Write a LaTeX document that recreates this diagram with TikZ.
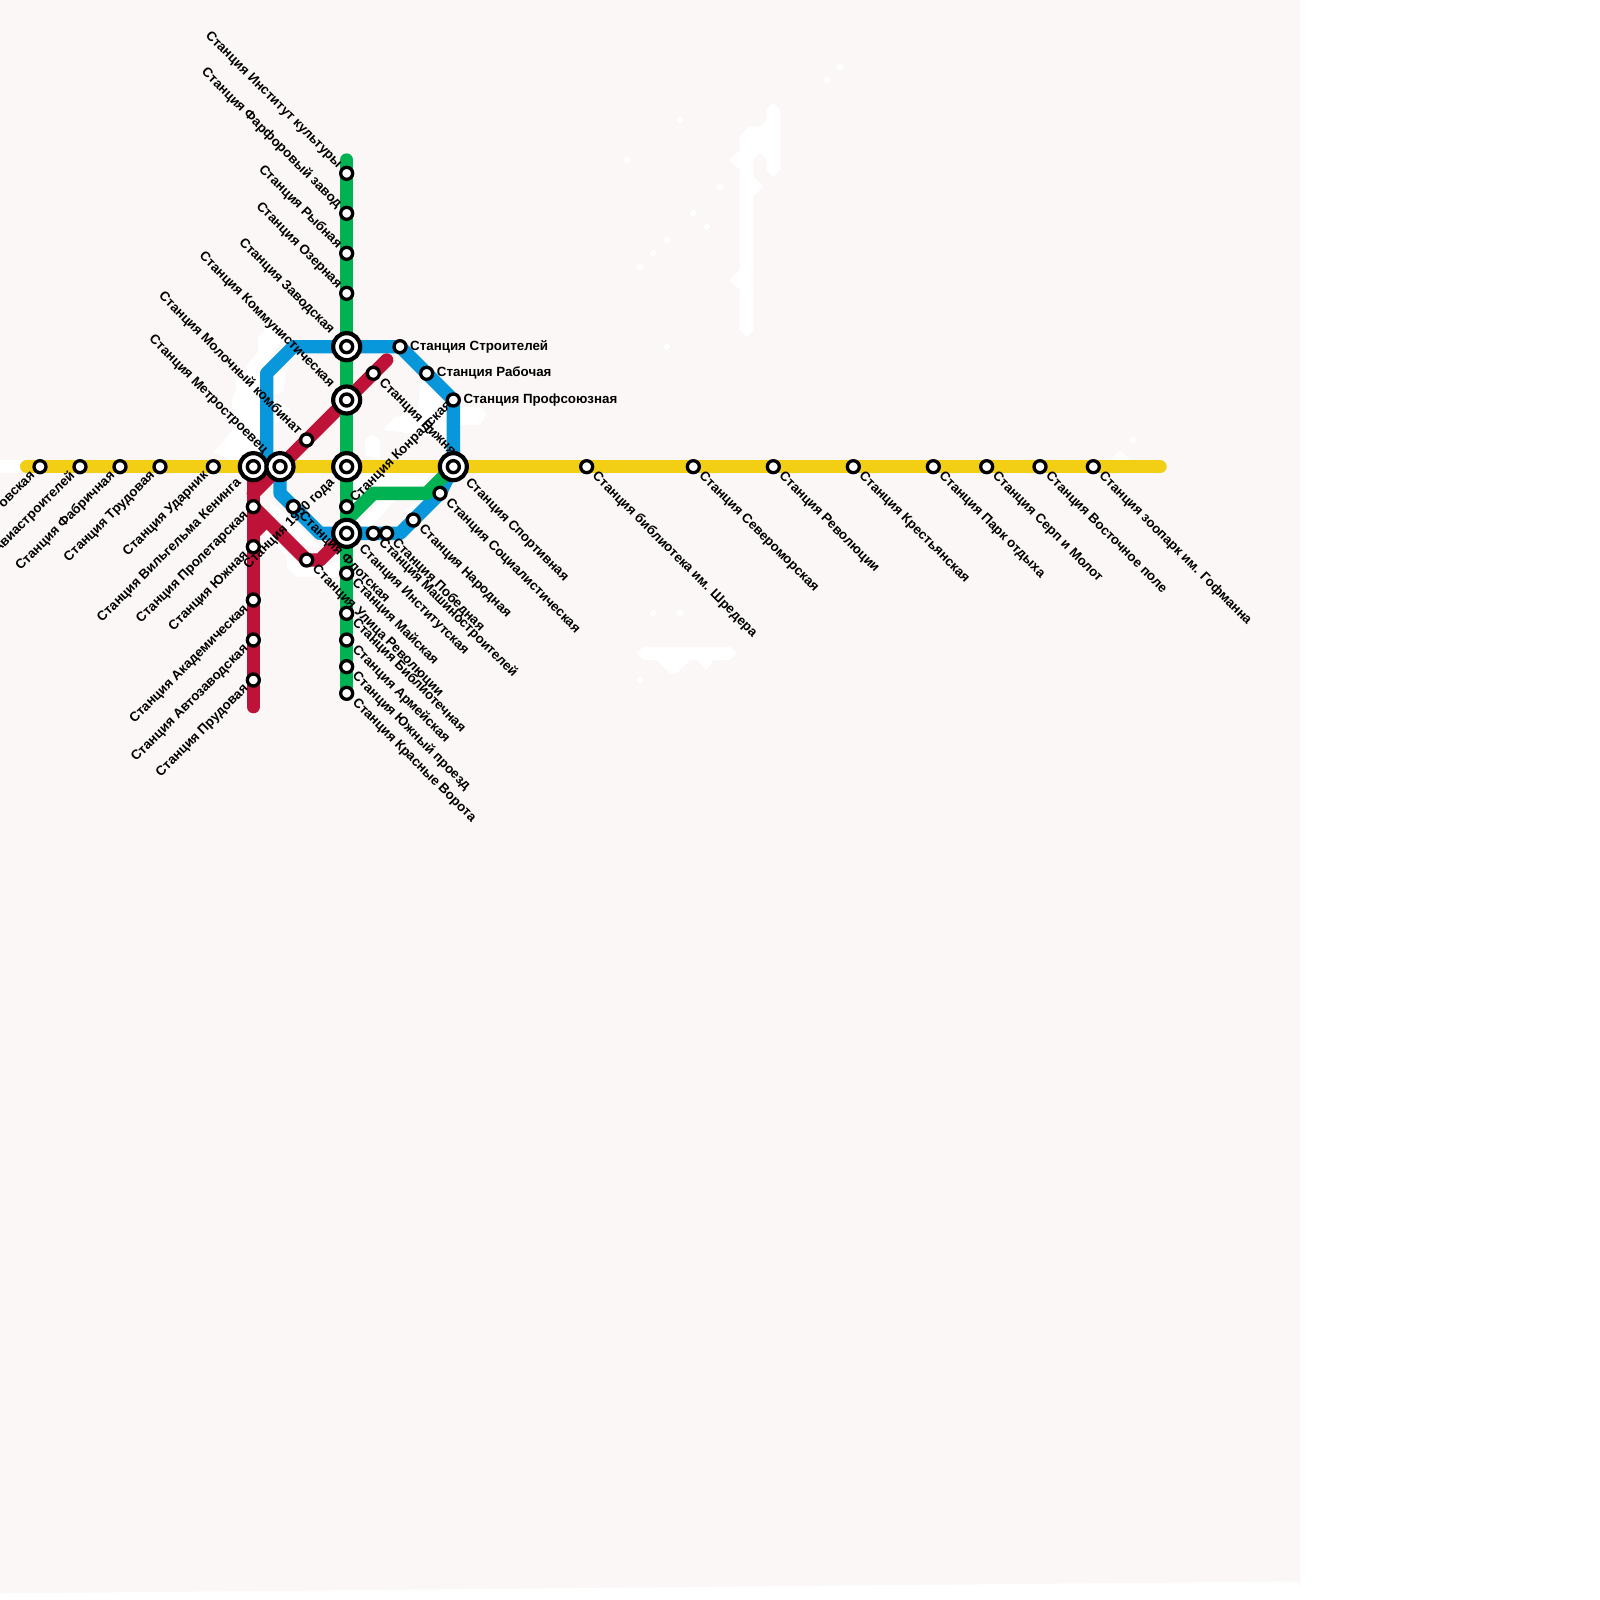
\documentclass[tikz,border=0pt]{standalone}
\usepackage{fontspec}
\setmainfont{Liberation Sans}
\definecolor{pagebg}{HTML}{FAF7F6}
\definecolor{lyellow}{HTML}{F2CF14}
\definecolor{lred}{HTML}{BE1238}
\definecolor{lblue}{HTML}{0997DB}
\definecolor{lgreen}{HTML}{00B251}
\pgfdeclarelayer{blobs}\pgfdeclarelayer{lines}\pgfdeclarelayer{labels}
\pgfsetlayers{blobs,lines,labels,main}
\tikzset{
  metro/.style={line width=13.33pt,line join=round},
  roundend/.style={line cap=round},
  stn/.style={circle,draw=black,fill=white,line width=3.3pt,minimum size=12pt,inner sep=0pt},
  icouter/.style={circle,draw=black,fill=white,line width=4.2pt,minimum size=27pt,inner sep=0pt},
  icinner/.style={circle,draw=black,fill=white,line width=3.4pt,minimum size=12pt,inner sep=0pt},
  lab/.style={inner sep=0pt,font=\bfseries\fontsize{13.33}{15}\selectfont,text=black},
  lse/.style={lab,xshift=7.5pt,yshift=-7.5pt,rotate=-45,anchor=west},
  lnw/.style={lab,xshift=-7pt,yshift=7pt,rotate=-45,anchor=east},
  lsw/.style={lab,xshift=-7pt,yshift=-7pt,rotate=45,anchor=east},
  lne/.style={lab,xshift=6pt,yshift=6pt,rotate=45,anchor=west},
  lee/.style={lab,xshift=10pt,anchor=west},
  ise/.style={lab,xshift=14pt,yshift=-14pt,rotate=-45,anchor=west},
  inw/.style={lab,xshift=-14.5pt,yshift=14.5pt,rotate=-45,anchor=east},
  isw/.style={lab,xshift=-14pt,yshift=-14pt,rotate=45,anchor=east},
}
\newcommand{\regst}[3]{\node[stn] (#1) at (#2,#3) {};}
\newcommand{\icst}[3]{\node[icouter] (#1) at (#2,#3) {}; \node[icinner] (#1in) at (#2,#3) {};}
\begin{document}
\begin{tikzpicture}[x=1pt,y=-1pt]
\useasboundingbox (0,0) rectangle (1600,1600);
% stations
\regst{y1}{40}{466.67}\regst{y2}{80}{466.67}\regst{y3}{120}{466.67}\regst{y4}{160}{466.67}\regst{y5}{213.33}{466.67}
\regst{y6}{586.67}{466.67}\regst{y7}{693.33}{466.67}\regst{y8}{773.33}{466.67}\regst{y9}{853.33}{466.67}\regst{y10}{933.33}{466.67}\regst{y11}{986.67}{466.67}\regst{y12}{1040}{466.67}\regst{y13}{1093.33}{466.67}
\regst{g1}{346.67}{173.33}\regst{g2}{346.67}{213.33}\regst{g3}{346.67}{253.33}\regst{g4}{346.67}{293.33}
\regst{g5}{346.67}{506.67}\regst{g6}{346.67}{573.33}\regst{g7}{346.67}{613.33}\regst{g8}{346.67}{640}\regst{g9}{346.67}{666.67}\regst{g10}{346.67}{693.33}
\regst{b1}{400}{346.67}\regst{b2}{426.67}{373.33}\regst{b3}{453.33}{400}\regst{b4}{440}{493.33}\regst{b5}{413.33}{520}\regst{b6}{386.67}{533.33}\regst{b7}{373.33}{533.33}\regst{b8}{293.33}{506.67}
\regst{r1}{373.33}{373.33}\regst{r2}{306.67}{440}\regst{r3}{253.33}{506.67}\regst{r4}{253.33}{546.67}\regst{r5}{253.33}{600}\regst{r6}{253.33}{640}\regst{r7}{253.33}{680}\regst{r8}{306.67}{560}
\icst{iA}{253.33}{466.67}\icst{iB}{280}{466.67}\icst{iC}{346.67}{466.67}\icst{iD}{453.33}{466.67}\icst{iE}{346.67}{346.67}\icst{iF}{346.67}{400}\icst{iG}{346.67}{533.33}
% free ends and bends
\coordinate (yW) at (26.67,466.67);\coordinate (yE) at (1160,466.67);
\coordinate (gN) at (346.67,160);
\coordinate (rN) at (386.67,360);\coordinate (rS) at (253.33,706.67);\coordinate (rJ) at (253.33,493.33);\coordinate (rK) at (266.67,520);\coordinate (rL) at (253.33,533.33);\coordinate (rM) at (320,560);
\coordinate (bA) at (266.67,373.33);\coordinate (bB) at (293.33,346.67);\coordinate (bC) at (266.67,466.67);\coordinate (bD) at (280,493.33);\coordinate (bE) at (320,533.33);\coordinate (bF) at (400,533.33);
\coordinate (gA) at (346.67,520);\coordinate (gB) at (373.33,493.33);\coordinate (gC) at (426.67,493.33);
% page and pale shapes
\begin{pgfonlayer}{blobs}
\fill[white] (0,0) rectangle (1600,1600);
\fill[pagebg] (0,0) -- (1300,0) -- (1300,1587.3) arc[start angle=0,end angle=-90,radius=6] -- (0,1593.3) -- cycle;
\begin{scope}[white]
\fill (0,460) rectangle (30,473.33);
\begin{scope}[shift={(600,50)},x=.3333pt,y=-.3333pt]
\fill (520,158)--(540,178)--(540,360)--(520,382)--(500,360)--(500,330)--(480,310)--(460,330)--(460,378)--(490,410)--(460,440)--(460,840)--(440,862)--(420,840)--(420,720)--(388,690)--(420,658)--(420,360)--(388,330)--(420,300)--(420,258)--(448,228)--(480,230)--(500,210)--(500,178)--cycle;
\foreach \p/\q in {240/210,80/330,360/410,280/490,320/530,200/570,160/610,120/650,200/890,680/90,720/50}
  \fill (\p,\q-12)--(\p+12,\q)--(\p,\q+12)--(\p-12,\q)--cycle;
\end{scope}
\begin{scope}[shift={(620,590)},x=.3333pt,y=-.3333pt]
\fill (50,190)--(70,170)--(330,170)--(350,190)--(330,210)--(280,210)--(260,240)--(232,210)--(210,210)--(170,250)--(150,250)--(110,210)--(70,210)--cycle;
\foreach \p/\q in {100/70,180/70,60/270}
  \fill (\p,\q-12)--(\p+12,\q)--(\p,\q+12)--(\p-12,\q)--cycle;
\end{scope}
\begin{scope}[shift={(1060,420)},x=.3333pt,y=-.3333pt]
\fill (180,90)--(215,125)--(145,125)--cycle;
\fill (220,48)--(232,60)--(220,72)--(208,60)--cycle;
\end{scope}
% around the network
\fill (268,325)--(285,335)--(275,350)--(262,372)--(262,460)--(235,462)--(213,452)--(221,444)--(232,430)--(232,400)--(236,390)--(236,378)--(247,376)--(247,365)--(258,352)--(258,338)--cycle;
\fill (273,377)--(287,367)--(283,392)--(273,395)--cycle;
\fill (275,398)--(290,410)--(275,425)--cycle;
\fill (353,473.33)--(433,473.33)--(420,487)--(353,487)--cycle;
\fill (383,430)--(395,417)--(418,413)--(420,383)--(440,383)--(447,407)--(480,407)--(487,414)--(480,425)--(460,425)--(450,440)--(400,432)--cycle;
\fill (365,455)--(365,440)--(372,434)--(380,440)--(380,460)--cycle;
\fill (270,500)--(300,527)--(320,547)--(300,545)--(270,520)--cycle;
\fill (260,530)--(267,527)--(287,543)--(287,567)--(297,577)--(337,577)--(340,560)--(320,570)--(285,555)--cycle;
\fill (380,500)--(395,500)--(370,528)--(358,525)--cycle;
\fill (420,500)--(430,505)--(415,515)--(405,510)--cycle;
\end{scope}
\end{pgfonlayer}
% lines
\begin{pgfonlayer}{lines}
\draw[metro,lblue] (bC) -- (bA) -- (bB) -- (iE.center) -- (b1.center) -- (b3.center) -- (iD.center) -- (b4.center) -- (bF) -- (iG.center) -- (bE) -- (bD) -- (iB.center);
\draw[metro,lyellow,roundend] (yW) -- (yE);
\draw[metro,lred,roundend] (rN) -- (iF.center) -- (iB.center) -- (rJ);
\draw[metro,lred,roundend] (iA.center) -- (rS);
\draw[metro,lred] (r3.center) -- (r8.center) -- (rM) -- (iG.center);
\draw[metro,lred] (rK) -- (rL);
\draw[metro,lgreen,roundend] (gN) -- (g10.center);
\draw[metro,lgreen] (gA) -- (gB) -- (gC) -- (iD.center);
\end{pgfonlayer}
% labels
\begin{pgfonlayer}{labels}
\node[lsw] (ty1) at (y1) {овская};
\node[lsw] (ty2) at (y2) {Станция Авиастроителей};
\node[lsw] (ty3) at (y3) {Станция Фабричная};
\node[lsw] (ty4) at (y4) {Станция Трудовая};
\node[lsw] (ty5) at (y5) {Станция Ударник};
\node[isw] (tiA) at (iA) {Станция Вильгельма Кенинга};
\node[inw] (tiB) at (iB) {Станция Метростроевец};
\node[isw] (tiC) at (iC) {Станция 1950 года};
\node[ise] (tiD) at (iD) {Станция Спортивная};
\node[inw] (tiE) at (iE) {Станция Заводская};
\node[inw] (tiF) at (iF) {Станция Коммунистическая};
\node[ise] (tiG) at (iG) {Станция Институтская};
\node[lnw] (tg1) at (g1) {Станция Институт культуры};
\node[lnw] (tg2) at (g2) {Станция Фарфоровый завод};
\node[lnw] (tg3) at (g3) {Станция Рыбная};
\node[lnw] (tg4) at (g4) {Станция Озерная};
\node[lne] (tg5) at (g5) {Станция Конрадская};
\node[lse] (tg6) at (g6) {Станция Майская};
\node[lse] (tg7) at (g7) {Станция Библиотечная};
\node[lse] (tg8) at (g8) {Станция Армейская};
\node[lse] (tg9) at (g9) {Станция Южный проезд};
\node[lse] (tg10) at (g10) {Станция Красные Ворота};
\node[lee] (tb1) at (b1) {Станция Строителей};
\node[lee] (tb2) at (b2) {Станция Рабочая};
\node[lee] (tb3) at (b3) {Станция Профсоюзная};
\node[lse] (tb4) at (b4) {Станция Социалистическая};
\node[lse] (tb5) at (b5) {Станция Народная};
\node[lse] (tb6) at (b6) {Станция Победная};
\node[lse] (tb7) at (b7) {Станция Машиностроителей};
\node[lse] (tb8) at (b8) {Станция Флотская};
\node[lse] (tr1) at (r1) {Станция Нижняя};
\node[lnw] (tr2) at (r2) {Станция Молочный комбинат};
\node[lsw] (tr3) at (r3) {Станция Пролетарская};
\node[lsw] (tr4) at (r4) {Станция Южная};
\node[lsw] (tr5) at (r5) {Станция Академическая};
\node[lsw] (tr6) at (r6) {Станция Автозаводская};
\node[lsw] (tr7) at (r7) {Станция Прудовая};
\node[lse] (tr8) at (r8) {Станция Улица Революции};
\node[lse] (ty6) at (y6) {Станция библиотека им. Шредера};
\node[lse] (ty7) at (y7) {Станция Североморская};
\node[lse] (ty8) at (y8) {Станция Революции};
\node[lse] (ty9) at (y9) {Станция Крестьянская};
\node[lse] (ty10) at (y10) {Станция Парк отдыха};
\node[lse] (ty11) at (y11) {Станция Серп и Молот};
\node[lse] (ty12) at (y12) {Станция Восточное поле};
\node[lse] (ty13) at (y13) {Станция зоопарк им. Гофманна};
\end{pgfonlayer}
\end{tikzpicture}
\end{document}
